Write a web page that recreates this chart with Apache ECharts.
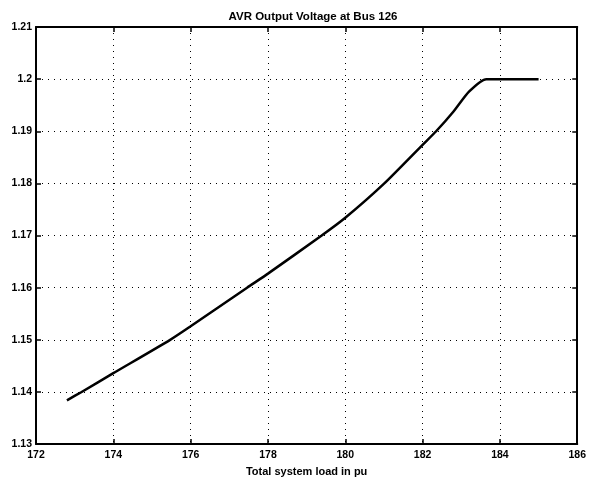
<!DOCTYPE html>
<html>
<head>
<meta charset="utf-8">
<script src="https://cdn.jsdelivr.net/npm/echarts@6/dist/echarts.min.js"></script>
<style>
html,body{margin:0;padding:0;background:#fff;}
#chart{width:589px;height:482px;}
</style>
</head>
<body>
<div id="chart"></div>
<script>
const titleText = 'AVR Output Voltage at Bus 126';
const xAxisName = 'Total system load in pu';
const loadValues = [172.8, 173.18, 174, 175.47, 176, 177.46, 178, 179.39, 180, 181.01, 182, 182.35, 182.8, 183.2, 183.65, 185];
const voltageValues = [1.1384, 1.14, 1.1436, 1.15, 1.1526, 1.16, 1.1627, 1.17, 1.1734, 1.18, 1.1874, 1.19, 1.1938, 1.1976, 1.2, 1.2];
const xMin = 172, xMax = 186, xStep = 2;
const yMin = 1.13, yMax = 1.21, yStep = 0.01;

const chart = echarts.init(document.getElementById('chart'), null, {renderer: 'canvas'});
const font = 'Liberation Sans, Arial, Helvetica, sans-serif';
const points = loadValues.map((x, i) => [x, voltageValues[i]]);

const baseX = {
  type: 'value', min: xMin, max: xMax, interval: xStep,
  axisLine: {show: true, onZero: false, lineStyle: {color: '#000', width: 2}},
  axisTick: {show: true, inside: true, length: 5, lineStyle: {color: '#000', width: 1.5}},
  splitLine: {show: false}
};
const baseY = {
  type: 'value', min: yMin, max: yMax, interval: yStep,
  axisLine: {show: true, onZero: false, lineStyle: {color: '#000', width: 2}},
  axisTick: {show: true, inside: true, length: 5, lineStyle: {color: '#000', width: 1.5}},
  splitLine: {show: false}
};

chart.setOption({
  animation: false,
  backgroundColor: '#fff',
  title: {
    text: titleText, left: 308, top: 6, textAlign: 'center',
    textStyle: {fontFamily: font, fontSize: 11.5, fontWeight: 'bold', color: '#000'}
  },
  grid: {left: 36, right: 9, top: 27, bottom: 32, containLabel: false},
  xAxis: [
    Object.assign({}, baseX, {
      position: 'bottom',
      name: xAxisName, nameLocation: 'middle', nameGap: 20,
      nameTextStyle: {fontFamily: font, fontSize: 11, fontWeight: 'bold', color: '#000'},
      axisLabel: {show: true, margin: 6, color: '#000', fontFamily: font, fontSize: 10.5, fontWeight: 'bold'},
      splitLine: {show: true, lineStyle: {color: '#000', type: [1, 5], width: 1}}
    }),
    Object.assign({}, baseX, {position: 'top', axisLabel: {show: false}})
  ],
  yAxis: [
    Object.assign({}, baseY, {
      position: 'left',
      axisLabel: {show: true, margin: 4, color: '#000', fontFamily: font, fontSize: 10.5, fontWeight: 'bold',
        formatter: v => String(parseFloat(v.toFixed(2)))},
      splitLine: {show: true, lineStyle: {color: '#000', type: [1, 5], width: 1}}
    }),
    Object.assign({}, baseY, {position: 'right', axisLabel: {show: false}})
  ],
  series: [{
    type: 'line', data: points, xAxisIndex: 0, yAxisIndex: 0,
    showSymbol: false, smooth: 0.2,
    lineStyle: {color: '#000', width: 2.5}
  }]
});
</script>
</body>
</html>
